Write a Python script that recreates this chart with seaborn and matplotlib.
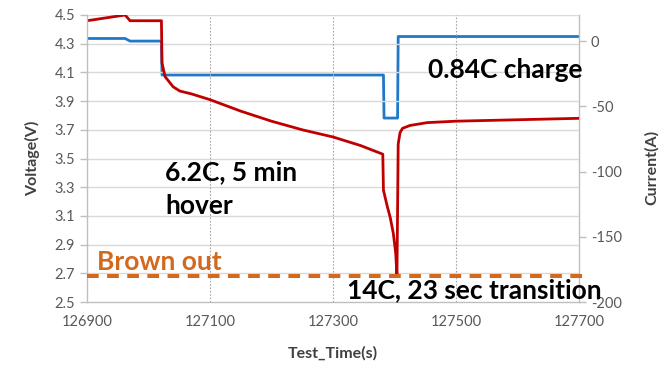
import matplotlib
matplotlib.use("Agg")
import matplotlib.pyplot as plt
import seaborn as sns
import pandas as pd

# ---- data ----
volt_time = [126900, 126962, 126970, 127021, 127022, 127027, 127040, 127051, 127070,
             127100, 127150, 127200, 127250, 127300, 127345, 127381, 127382, 127388,
             127393, 127398, 127402, 127404, 127406, 127409, 127413, 127425, 127453,
             127500, 127600, 127700]
voltage = [4.46, 4.50, 4.46, 4.46, 4.165, 4.07, 4.00, 3.97, 3.95,
           3.91, 3.83, 3.76, 3.70, 3.65, 3.59, 3.53, 3.28, 3.17,
           3.09, 2.98, 2.84, 2.68, 3.60, 3.68, 3.71, 3.73, 3.75,
           3.76, 3.77, 3.78]

curr_time = [126900, 126962, 126970, 127021, 127022, 127382, 127383, 127405, 127406, 127700]
current = [2.0, 2.0, 0.0, 0.0, -26.0, -26.0, -59.0, -59.0, 3.5, 3.5]

brown_out = 2.68
x_ticks = [126900, 127100, 127300, 127500, 127700]
v_ticks = [2.5, 2.7, 2.9, 3.1, 3.3, 3.5, 3.7, 3.9, 4.1, 4.3, 4.5]
i_ticks = [-200, -150, -100, -50, 0]

annotations = ["Brown out", "6.2C, 5 min\nhover", "0.84C charge", "14C, 23 sec transition"]

# ---- style ----
sns.set_style("white")
plt.rcParams['font.family'] = ['Lato', 'DejaVu Sans']

RED = "#C00000"
BLUE = "#1F78C8"
ORANGE = "#D2691E"
TICKC = "#595959"

fig = plt.figure(figsize=(6.62, 3.67), dpi=100)
ax = fig.add_axes([87/662, 1-302/367, (579-87)/662, (302-15)/367])

dfv = pd.DataFrame({"t": volt_time, "v": voltage})
dfi = pd.DataFrame({"t": curr_time, "i": current})

ax.set_xlim(126900, 127700)
ax.set_ylim(2.5, 4.5)
ax.set_yticks(v_ticks)
ax.set_yticklabels([f"{v:.1f}" for v in v_ticks])
ax.set_xticks(x_ticks)
ax.set_xticklabels([str(x) for x in x_ticks])

# grid
for v in v_ticks[1:]:
    ax.axhline(v, color="#D9D9D9", lw=1.0, zorder=0)
for x in x_ticks[1:-1]:
    ax.axvline(x, color="#A6A6A6", lw=0.8, ls=(0, (1.5, 1.5)), zorder=0)

ax2 = ax.twinx()
ax2.set_ylim(-200, 20)
ax2.set_yticks(i_ticks)
ax2.set_yticklabels([str(i) for i in i_ticks])

sns.lineplot(data=dfi, x="t", y="i", ax=ax2, color=BLUE, lw=2.0,
             estimator=None, sort=False)
sns.lineplot(data=dfv, x="t", y="v", ax=ax, color=RED, lw=2.0,
             estimator=None, sort=False)
ax.set_zorder(ax2.get_zorder() + 1)
ax.patch.set_visible(False)

# brown out line
ax.plot([0, 1.012], [brown_out, brown_out], transform=ax.get_yaxis_transform(),
        color=ORANGE, lw=2.9, ls=(0, (2.9, 2.1)), clip_on=False, zorder=5)

for a in (ax, ax2):
    for s in a.spines.values():
        s.set_color("#BFBFBF")
        s.set_linewidth(1.0)
    a.spines["top"].set_visible(False)
    a.tick_params(colors="#BFBFBF", labelcolor=TICKC, labelsize=10.5, length=5, width=1)
ax.spines["right"].set_visible(False)
ax2.spines["left"].set_visible(False)
ax2.spines["bottom"].set_visible(False)
ax.tick_params(axis="x", pad=4)

lab_fs = 11.5
ax.set_xlabel("Test_Time(s)", fontsize=lab_fs, fontweight="bold", color="#404040")
ax.set_ylabel("Voltage(V)", fontsize=lab_fs, fontweight="bold", color="#404040")
ax2.set_ylabel("Current(A)", fontsize=lab_fs, fontweight="bold", color="#404040")
ax.xaxis.set_label_coords(0.5, (302-353)/287)
ax.xaxis.label.set_va("center")
ax.yaxis.set_label_coords((33-87)/492, 0.5)
ax.yaxis.label.set_va("center")
ax2.yaxis.set_label_coords((652-87)/492, 0.47)
ax2.yaxis.label.set_va("center")

fs = 19
fig.text(97/662, 1-262/367, annotations[0], color=ORANGE, fontsize=fs, fontweight="bold",
         ha="left", va="center")
fig.text(165/662, 1-189/367, annotations[1], color="black", fontsize=fs, fontweight="bold",
         ha="left", va="center", linespacing=1.5)
fig.text(428/662, 1-70/367, annotations[2], color="black", fontsize=fs, fontweight="bold",
         ha="left", va="center")
fig.text(347/662, 1-290/367, annotations[3], color="black", fontsize=fs, fontweight="bold",
         ha="left", va="center")

fig.savefig("out.png", dpi=100)
